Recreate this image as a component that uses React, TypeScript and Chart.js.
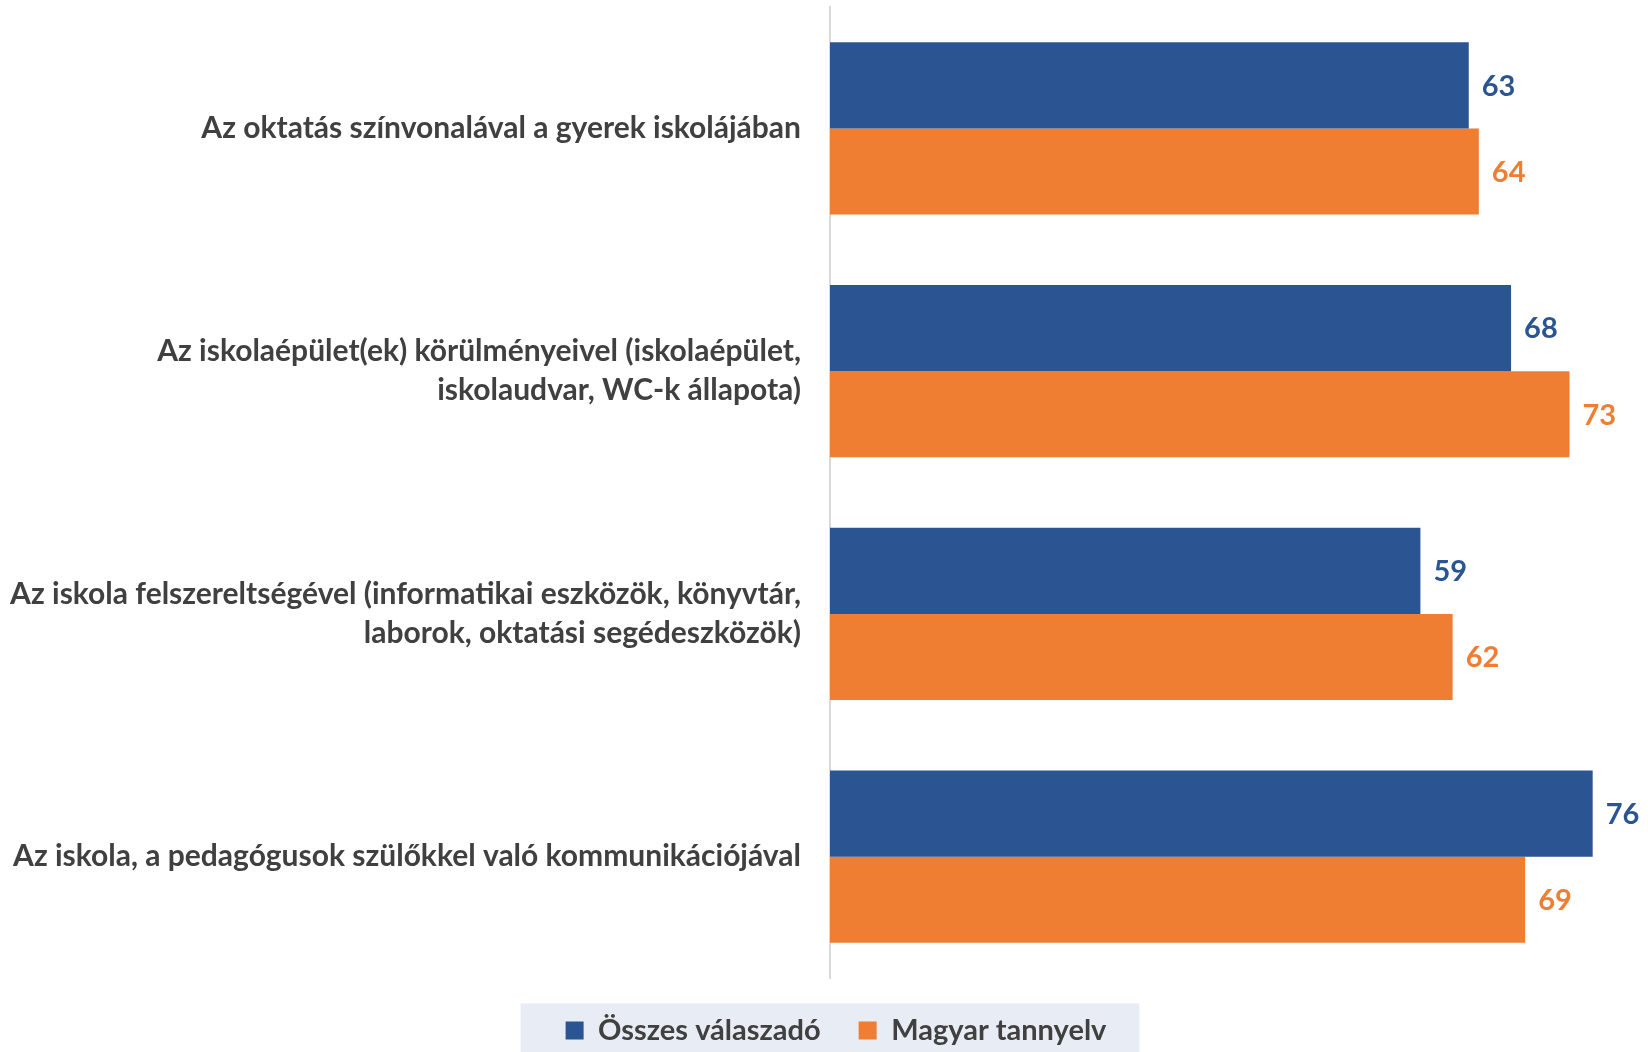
import React, { useEffect, useRef } from "react";
import { Chart, registerables } from "chart.js";

Chart.register(...registerables);

const categories: (string | string[])[] = [
  "Az oktatás színvonalával a gyerek iskolájában",
  ["Az iskolaépület(ek) körülményeivel (iskolaépület,", "iskolaudvar, WC-k állapota)"],
  ["Az iskola felszereltségével (informatikai eszközök, könyvtár,", "laborok, oktatási segédeszközök)"],
  "Az iskola, a pedagógusok szülőkkel való kommunikációjával",
];
const seriesNames = ["Összes válaszadó", "Magyar tannyelv"];
const osszesValues = [63.4, 67.6, 58.6, 75.7];
const magyarValues = [64.4, 73.4, 61.8, 69.0];

const BLUE = "#2B5592";
const ORANGE = "#EF7D32";
const FONT = "Lato, 'Open Sans', sans-serif";

const valueLabels = {
  id: "valueLabels",
  afterDatasetsDraw(chart: any) {
    const ctx = chart.ctx;
    ctx.save();
    ctx.font = `bold 29px ${FONT}`;
    ctx.textBaseline = "middle";
    ctx.textAlign = "left";
    chart.data.datasets.forEach((ds: any, di: number) => {
      const meta = chart.getDatasetMeta(di);
      ctx.fillStyle = ds.backgroundColor;
      meta.data.forEach((bar: any, i: number) => {
        ctx.fillText(String(Math.round(ds.data[i])), bar.x + 13, bar.y + 1);
      });
    });
    ctx.restore();
  },
};

const legendBg = {
  id: "legendBg",
  afterLayout(chart: any) {
    if (chart.legend) {
      chart.legend.left += 36;
    }
  },
  beforeDraw(chart: any) {
    const lg = chart.legend;
    if (!lg || !lg.legendHitBoxes || !lg.legendHitBoxes.length) return;
    const hbs = lg.legendHitBoxes;
    const first = hbs[0];
    const last = hbs[hbs.length - 1];
    const cy = first.top + first.height / 2;
    const left = first.left - 45;
    const right = last.left + last.width + 33;
    const top = cy - 27;
    const bottom = chart.height;
    const ctx = chart.ctx;
    ctx.save();
    ctx.fillStyle = "#E8ECF4";
    ctx.fillRect(left, top, right - left, bottom - top);
    ctx.restore();
  },
};

export default function App() {
  const ref = useRef<HTMLCanvasElement | null>(null);
  useEffect(() => {
    if (!ref.current) return;
    const chart = new Chart(ref.current, {
      type: "bar",
      data: {
        labels: categories,
        datasets: [
          {
            label: seriesNames[0],
            data: osszesValues,
            backgroundColor: BLUE,
            categoryPercentage: 0.709,
            barPercentage: 1,
          },
          {
            label: seriesNames[1],
            data: magyarValues,
            backgroundColor: ORANGE,
            categoryPercentage: 0.709,
            barPercentage: 1,
          },
        ],
      },
      options: {
        indexAxis: "y",
        animation: false,
        responsive: true,
        maintainAspectRatio: false,
        layout: { padding: { top: 7, right: 12, bottom: -3, left: 0 } },
        scales: {
          x: {
            display: false,
            min: 0,
            max: 80,
          },
          y: {
            grid: { display: false, drawTicks: false },
            border: { display: true, color: "#D9D9D9", width: 2 },
            ticks: {
              padding: 29,
              color: "#404040",
              font: { family: FONT, size: 30, weight: "bold", lineHeight: 1.3 },
            },
            afterFit(scale: any) {
              scale.width = 830;
              scale.paddingTop = 0;
              scale.paddingBottom = 0;
            },
          },
        },
        plugins: {
          legend: {
            position: "bottom",
            labels: {
              boxWidth: 18,
              boxHeight: 18,
              padding: 38,
              color: "#404040",
              font: { family: FONT, size: 29, weight: "bold" },
            },
          },
          tooltip: { enabled: false },
        },
      },
      plugins: [valueLabels, legendBg],
    });
    return () => chart.destroy();
  }, []);
  return (
    <div style={{ position: "absolute", left: 0, top: 0, width: 1648, height: 1052, background: "#fff" }}>
      <canvas ref={ref} />
    </div>
  );
}
